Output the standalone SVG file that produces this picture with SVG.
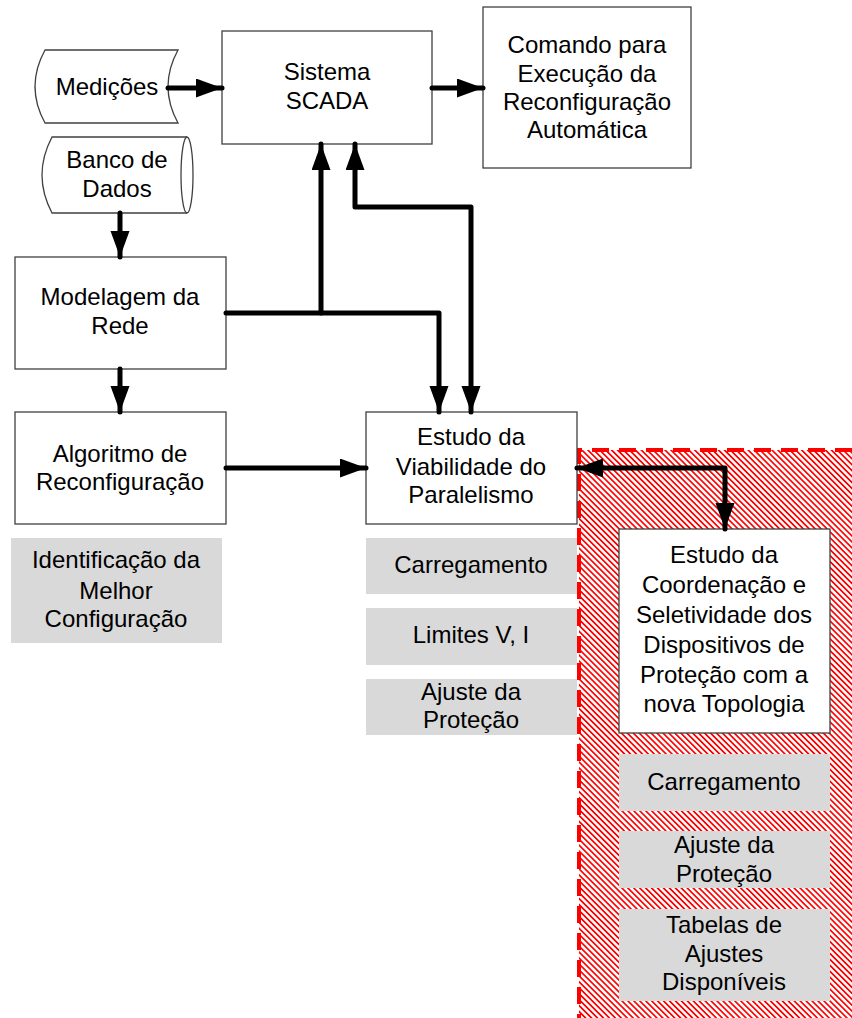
<svg xmlns="http://www.w3.org/2000/svg" width="852" height="1018" viewBox="0 0 852 1018">
<defs>
<pattern id="hatch" patternUnits="userSpaceOnUse" width="4.2" height="10" patternTransform="rotate(-45)">
<rect x="0" y="0" width="4.2" height="10" fill="#ffffff"/>
<rect x="0" y="0" width="1.7" height="10" fill="#ff0000"/>
</pattern>
<marker id="arr" markerUnits="userSpaceOnUse" markerWidth="27" markerHeight="20" refX="26" refY="9.5" orient="auto-start-reverse" viewBox="0 0 27 20">
<path d="M0,0 L26,9.5 L0,19 Z" fill="#000"/>
</marker>
</defs>
<style>
.box{fill:#fff;stroke:#404040;stroke-width:1.3}
.gray{fill:#d9d9d9;stroke:none}
.t{font-family:"Liberation Sans",Arial,sans-serif;font-size:24px;fill:#000;text-anchor:middle}
.c{fill:none;stroke:#000;stroke-width:5;stroke-linecap:round;stroke-linejoin:round}
</style>
<rect width="852" height="1018" fill="#fff"/>

<g id="region">
<rect x="579" y="450" width="273" height="568" fill="url(#hatch)"/>
<path d="M852,450 L579,450 L579,1018" fill="none" stroke="#ff0000" stroke-width="4" stroke-dasharray="17 10"/>
</g>

<g id="medicoes">
<path class="box" d="M45,50 L178,50 Q158,86.5 178,123 L45,123 Q25,86.5 45,50 Z"/>
<text class="t" x="107" y="95">Medições</text>
</g>

<g id="banco">
<path class="box" d="M52,137 L187,137 A6,38 0 0 1 187,213 L52,213 Q32,175 52,137 Z"/>
<path class="box" style="fill:none" d="M187,137 A6,38 0 0 0 187,213"/>
<text class="t" x="117" y="168">Banco de</text>
<text class="t" x="117" y="197">Dados</text>
</g>

<g id="scada">
<rect class="box" x="222" y="31" width="210" height="113"/>
<text class="t" x="327" y="80">Sistema</text>
<text class="t" x="327" y="109">SCADA</text>
</g>

<g id="comando">
<rect class="box" x="483" y="7" width="208" height="161"/>
<text class="t" x="587" y="53">Comando para</text>
<text class="t" x="587" y="82">Execução da</text>
<text class="t" x="587" y="110">Reconfiguração</text>
<text class="t" x="587" y="138">Automática</text>
</g>

<g id="modelagem">
<rect class="box" x="15" y="257" width="211" height="112"/>
<text class="t" x="120" y="305">Modelagem da</text>
<text class="t" x="120" y="334">Rede</text>
</g>

<g id="algoritmo">
<rect class="box" x="15" y="412" width="211" height="112"/>
<text class="t" x="120" y="462">Algoritmo de</text>
<text class="t" x="120" y="490">Reconfiguração</text>
</g>

<g id="identificacao">
<rect class="gray" x="11" y="538" width="211" height="105"/>
<text class="t" x="116" y="568">Identificação da</text>
<text class="t" x="116" y="599">Melhor</text>
<text class="t" x="116" y="627">Configuração</text>
</g>

<g id="viabilidade">
<rect class="box" x="366" y="412" width="211" height="112"/>
<text class="t" x="471" y="445">Estudo da</text>
<text class="t" x="471" y="475">Viabilidade do</text>
<text class="t" x="471" y="503">Paralelismo</text>
</g>

<g id="carregamento1">
<rect class="gray" x="366" y="538" width="211" height="56"/>
<text class="t" x="471" y="573">Carregamento</text>
</g>

<g id="limites">
<rect class="gray" x="366" y="608" width="211" height="57"/>
<text class="t" x="471" y="643">Limites V, I</text>
</g>

<g id="ajuste1">
<rect class="gray" x="366" y="679" width="211" height="56"/>
<text class="t" x="471" y="700">Ajuste da</text>
<text class="t" x="471" y="728">Proteção</text>
</g>

<g id="coordenacao">
<rect class="box" x="619" y="529" width="211" height="204"/>
<text class="t" x="724" y="563">Estudo da</text>
<text class="t" x="724" y="593">Coordenação e</text>
<text class="t" x="724" y="623">Seletividade dos</text>
<text class="t" x="724" y="653">Dispositivos de</text>
<text class="t" x="724" y="683">Proteção com a</text>
<text class="t" x="724" y="712">nova Topologia</text>
</g>

<g id="carregamento2">
<rect class="gray" x="619" y="754" width="211" height="57"/>
<text class="t" x="724" y="790">Carregamento</text>
</g>

<g id="ajuste2">
<rect class="gray" x="619" y="831" width="211" height="57"/>
<text class="t" x="724" y="853">Ajuste da</text>
<text class="t" x="724" y="882">Proteção</text>
</g>

<g id="tabelas">
<rect class="gray" x="619" y="909" width="211" height="92"/>
<text class="t" x="724" y="933">Tabelas de</text>
<text class="t" x="724" y="962">Ajustes</text>
<text class="t" x="724" y="990">Disponíveis</text>
</g>

<g id="connectors">
<path class="c" d="M168,88 L222,88" marker-end="url(#arr)"/>
<path class="c" d="M432,88 L483,88" marker-end="url(#arr)"/>
<path class="c" d="M120,213 L120,257" marker-end="url(#arr)"/>
<path class="c" d="M120,369 L120,412" marker-end="url(#arr)"/>
<path class="c" d="M226,468 L366,468" marker-end="url(#arr)"/>
<path class="c" d="M226,313 L439,313 L439,412" marker-end="url(#arr)"/>
<path class="c" d="M321,313 L321,144" marker-end="url(#arr)"/>
<path class="c" d="M355,144 L355,207 L471,207 L471,412" marker-start="url(#arr)" marker-end="url(#arr)"/>
<path class="c" d="M577,468 L725,468 L725,529" marker-start="url(#arr)" marker-end="url(#arr)"/>
</g>
</svg>
